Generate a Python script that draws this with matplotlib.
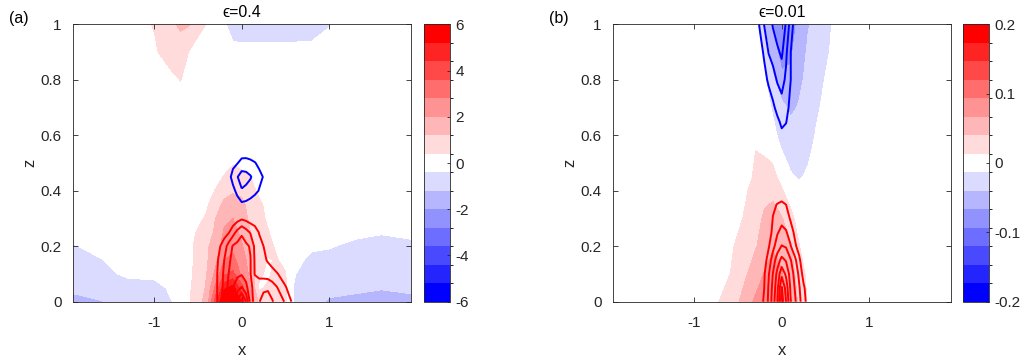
import numpy as np
import matplotlib
matplotlib.use('Agg')
import matplotlib.pyplot as plt
from matplotlib.colors import ListedColormap, BoundaryNorm
import matplotlib.cm as cm

plt.rcParams['font.family'] = ['Liberation Sans', 'DejaVu Sans']
plt.rcParams['axes.unicode_minus'] = False

# ---------------- panel (a): eps = 0.4 ----------------
X_A = [-1.94, -1.6, -1.3, -1.0, -0.8, -0.7, -0.6, -0.4, -0.3, -0.2, -0.1, 0.0,
       0.1, 0.2, 0.3, 0.4, 0.5, 0.6, 0.8, 1.0, 1.3, 1.6, 1.94]
Z_A = [0, 0.05, 0.1, 0.15, 0.2, 0.25, 0.3, 0.35, 0.4, 0.45, 0.5, 0.6, 0.7, 0.8, 0.9, 1.0]
FILL_A = [
    [-1.5, -1.22, -0.9, -0.8, -0.42, -0.1, 0.3, 1.5, 4.0, 6.5, 6.5, 5.0, 2.5, 1.0, 0.9, 0.6, 0.5, -0.5, -0.9, -1.3, -1.4, -1.5, -1.4],
    [-1.0, -0.95, -0.85, -0.8, -0.2, 0.05, 0.3, 1.3, 3.0, 5.0, 5.5, 4.0, 2.0, 0.3, 0.5, 0.7, 0.5, -0.45, -0.85, -0.95, -1.05, -1.15, -1.05],
    [-0.9, -0.7, -0.2, -0.1, 0.0, 0.1, 0.2, 1.2, 2.2, 3.5, 3.8, 2.6, 1.8, 0.5, 0.3, 0.6, 0.45, -0.35, -0.8, -0.8, -0.85, -0.9, -0.9],
    [-0.75, -0.42, -0.1, 0.0, 0.0, 0.1, 0.2, 1.1, 1.8, 2.8, 3.0, 2.4, 1.6, 0.8, 0.35, 0.45, 0.2, -0.2, -0.55, -0.6, -0.7, -0.8, -0.8],
    [-0.45, -0.2, 0.0, 0.0, 0.0, 0.1, 0.2, 1.1, 1.5, 2.4, 2.6, 2.1, 1.3, 0.9, 0.6, 0.3, 0.0, -0.1, -0.3, -0.35, -0.55, -0.65, -0.5],
    [-0.15, 0.0, 0.0, 0.0, 0.0, 0.05, 0.1, 0.9, 1.3, 2.1, 2.3, 1.8, 1.2, 0.8, 0.45, 0.1, 0.0, 0.0, 0.0, -0.05, -0.25, -0.35, -0.3],
    [0, 0, 0, 0, 0, 0, 0.0, 0.5, 1.2, 1.8, 2.0, 1.6, 1.0, 0.6, 0.3, 0, 0, 0, 0, 0, 0, 0, 0],
    [0, 0, 0, 0, 0, 0, 0.0, 0.3, 0.8, 1.4, 1.6, 1.4, 0.9, 0.6, 0.1, 0, 0, 0, 0, 0, 0, 0, 0],
    [0, 0, 0, 0, 0, 0, 0.0, 0.0, 0.45, 0.9, 1.1, 1.0, 0.7, 0.2, 0, 0, 0, 0, 0, 0, 0, 0, 0],
    [0, 0, 0, 0, 0, 0, 0.0, 0.0, 0.1, 0.45, 0.7, 0.6, 0.42, 0.0, 0, 0, 0, 0, 0, 0, 0, 0, 0],
    [0, 0, 0, 0, 0, 0, 0.0, 0.0, 0.0, 0.1, 0.35, 0.2, 0.0, 0.0, 0, 0, 0, 0, 0, 0, 0, 0, 0],
    [0, 0, 0, 0, 0, 0, 0, 0, 0, 0, 0, 0, 0, 0, 0, 0, 0, 0, 0, 0, 0, 0, 0],
    [0, 0, 0, 0, 0, 0, 0, 0, 0, 0, 0, 0, 0, 0, 0, 0, 0, 0, 0, 0, 0, 0, 0],
    [0, 0, 0, 0.0, 0.2, 0.42, 0.1, 0, 0, 0, 0, 0, 0, 0, 0, 0, 0, 0, 0, 0, 0, 0, 0],
    [0, 0, 0, 0.28, 0.85, 0.9, 0.35, 0.0, 0, -0.05, -0.15, -0.15, -0.15, -0.15, -0.15, -0.15, -0.15, -0.15, -0.15, -0.05, 0, 0, 0],
    [0, 0, 0, 0.45, 1.1, 1.3, 1.25, 0.35, 0.0, -0.3, -0.8, -0.9, -0.9, -0.9, -0.9, -0.85, -0.85, -0.85, -0.8, -0.45, 0, 0, 0],
]

LINE_X_A = [-0.5, -0.4, -0.3, -0.2, -0.15, -0.1, -0.05, 0, 0.05, 0.1, 0.15, 0.2, 0.25, 0.3, 0.35, 0.4, 0.5, 0.6, 0.7]
LINE_Z_A = [0, 0.05, 0.1, 0.15, 0.2, 0.25, 0.3, 0.35, 0.4, 0.45, 0.5, 0.55, 0.6]
LINE_A = [
    [0, 0.2, 0.6, 2.6, 3.6, 4.8, 6.2, 7.5, 6.0, 3.6, 2.6, 2.95, 3.4, 3.5, 3.1, 2.6, 1.9, 0.6, 0],
    [0, 0.2, 0.7, 2.3, 3.3, 4.0, 4.6, 5.1, 4.3, 3.3, 2.6, 2.6, 2.8, 2.85, 2.5, 2.1, 1.1, 0.3, 0],
    [0, 0.1, 0.7, 2.2, 3.0, 3.5, 3.8, 3.9, 3.6, 3.05, 1.95, 1.7, 1.6, 1.5, 1.35, 1.1, 0.5, 0.1, 0],
    [0, 0, 0.6, 2.0, 2.8, 3.3, 3.5, 3.5, 3.3, 3.05, 1.9, 1.5, 1.2, 0.9, 0.6, 0.3, 0.1, 0, 0],
    [0, 0, 0.4, 1.5, 2.4, 3.1, 3.3, 3.3, 3.2, 2.9, 1.8, 1.3, 1.0, 0.6, 0.3, 0.1, 0, 0, 0],
    [0, 0, 0.1, 0.6, 0.9, 1.6, 2.3, 2.9, 2.4, 1.9, 1.5, 0.95, 0.6, 0.3, 0.1, 0, 0, 0, 0],
    [0, 0, 0, 0, 0, 0.3, 0.6, 0.85, 0.7, 0.5, 0.4, 0.2, 0, 0, 0, 0, 0, 0, 0],
    [0, 0, 0, 0, 0, -0.3, -0.5, -0.8, -0.75, -0.6, -0.4, -0.25, -0.1, 0, 0, 0, 0, 0, 0],
    [0, 0, 0, 0, -0.3, -0.7, -1.3, -1.9, -1.7, -1.5, -1.26, -0.95, -0.6, -0.3, -0.1, 0, 0, 0, 0],
    [0, 0, 0, 0.1, -0.6, -1.4, -1.95, -2.5, -2.4, -2.1, -1.6, -1.25, -0.95, -0.7, -0.4, -0.2, 0, 0, 0],
    [0, 0, 0, 0, -0.3, -0.7, -0.95, -1.3, -1.3, -1.2, -1.05, -0.8, -0.5, -0.3, -0.1, 0, 0, 0, 0],
    [0, 0, 0, 0, 0, -0.1, -0.3, -0.4, -0.45, -0.4, -0.3, -0.1, 0, 0, 0, 0, 0, 0, 0],
    [0, 0, 0, 0, 0, 0, 0, 0, 0, 0, 0, 0, 0, 0, 0, 0, 0, 0, 0],
]
RED_LEVELS_A = [1, 2, 3, 4, 5, 6, 7]
BLUE_LEVELS_A = [-2, -1]

# ---------------- panel (b): eps = 0.01 ----------------
X_B = [-1.94, -1.0, -0.8, -0.6, -0.5, -0.4, -0.3, -0.2, -0.1, 0, 0.1, 0.2, 0.3, 0.4, 0.5, 0.6, 0.8, 1.0, 1.94]
Z_B = [0, 0.1, 0.2, 0.3, 0.4, 0.45, 0.5, 0.55, 0.6, 0.7, 0.8, 0.9, 1.0]
FILL_B = [
    [0, 0, 0, 0.033, 0.038, 0.055, 0.072, 0.08, 0.085, 0.08, 0.066, 0.0335, 0.011, 0, 0, 0, 0, 0, 0],
    [0, 0, 0, 0.012, 0.025, 0.039, 0.052, 0.068, 0.075, 0.068, 0.05, 0.03, 0.005, 0, 0, 0, 0, 0, 0],
    [0, 0, 0, 0.008, 0.018, 0.028, 0.038, 0.05, 0.065, 0.06, 0.042, 0.014, 0, 0, 0, 0, 0, 0, 0],
    [0, 0, 0, 0, 0.008, 0.018, 0.032, 0.043, 0.05, 0.042, 0.022, 0.002, 0, 0, 0, 0, 0, 0, 0],
    [0, 0, 0, 0, 0, 0.012, 0.022, 0.034, 0.034, 0.016, 0, -0.005, 0, 0, 0, 0, 0, 0, 0],
    [0, 0, 0, 0, 0, 0.005, 0.018, 0.025, 0.02, 0.005, -0.01, -0.016, -0.01, 0, 0, 0, 0, 0, 0],
    [0, 0, 0, 0, 0, 0, 0.016, 0.02, 0.012, -0.005, -0.018, -0.022, -0.014, -0.004, 0, 0, 0, 0, 0],
    [0, 0, 0, 0, 0, 0, 0.013, 0.006, -0.004, -0.014, -0.024, -0.028, -0.02, -0.006, 0, 0, 0, 0, 0],
    [0, 0, 0, 0, 0, 0, 0, 0, -0.008, -0.02, -0.03, -0.033, -0.026, -0.01, 0, 0, 0, 0, 0],
    [0, 0, 0, 0, 0, 0, 0, -0.004, -0.016, -0.032, -0.045, -0.038, -0.03, -0.018, -0.006, 0, 0, 0, 0],
    [0, 0, 0, 0, 0, 0, 0, -0.01, -0.035, -0.062, -0.06, -0.045, -0.034, -0.024, -0.012, -0.002, 0, 0, 0],
    [0, 0, 0, 0, 0, 0, -0.002, -0.018, -0.058, -0.075, -0.072, -0.052, -0.037, -0.028, -0.018, -0.008, 0, 0, 0],
    [0, 0, 0, 0, 0, 0, -0.006, -0.04, -0.07, -0.085, -0.08, -0.06, -0.042, -0.032, -0.022, -0.01, 0, 0, 0],
]

RED_X_B = [-0.4, -0.3, -0.2, -0.15, -0.1, -0.05, 0, 0.05, 0.1, 0.15, 0.2, 0.25, 0.3, 0.4]
RED_Z_B = [0, 0.05, 0.1, 0.15, 0.2, 0.25, 0.3, 0.35, 0.4, 0.45]
RED_LINE_B = [
    [0, 0.3, 1.1, 2.2, 3.5, 5.0, 7.5, 6.0, 4.1, 3.2, 2.3, 1.4, 0.6, 0],
    [0, 0.2, 1.0, 2.1, 3.3, 4.7, 7.1, 5.6, 3.9, 2.95, 2.1, 1.2, 0.4, 0],
    [0, 0.1, 0.9, 1.9, 3.05, 4.3, 5.7, 4.8, 3.6, 2.7, 1.8, 0.6, 0.2, 0],
    [0, 0, 0.6, 1.4, 2.5, 3.5, 4.3, 3.9, 3.1, 2.3, 1.2, 0.3, 0, 0],
    [0, 0, 0.3, 0.9, 1.7, 2.5, 3.05, 2.9, 2.1, 1.2, 0.6, 0.1, 0, 0],
    [0, 0, 0.1, 0.6, 1.2, 1.9, 2.3, 2.1, 1.5, 0.8, 0.3, 0, 0, 0],
    [0, 0, 0, 0.3, 1.05, 1.4, 1.7, 1.5, 0.9, 0.3, 0, 0, 0, 0],
    [0, 0, 0, 0, 0.8, 1.05, 1.15, 1.0, 0.5, 0, 0, 0, 0, 0],
    [0, 0, 0, 0, 0.2, 0.3, 0.5, 0.3, 0.1, 0, 0, 0, 0, 0],
    [0, 0, 0, 0, 0, 0, 0, 0, 0, 0, 0, 0, 0, 0],
]
RED_LEVELS_B = [1, 2, 3, 4, 5, 6, 7]

BLUE_X_B = [-0.4, -0.3, -0.25, -0.2, -0.15, -0.1, -0.05, 0, 0.05, 0.1, 0.15, 0.2, 0.3]
BLUE_Z_B = [0.55, 0.6, 0.65, 0.7, 0.8, 0.9, 1.0]
BLUE_LINE_B = [
    [0, 0, 0, 0, 0, 0, 0, 0, 0, 0, 0, 0, 0],
    [0, 0, 0, 0, 0, 0, -0.4, -0.8, -0.7, -0.3, 0, 0, 0],
    [0, 0, 0, 0, 0, -0.3, -0.8, -1.2, -1.05, -0.5, -0.1, 0, 0],
    [0, 0, 0, 0, -0.3, -0.8, -1.3, -1.6, -1.4, -0.7, -0.2, 0, 0],
    [0, 0, -0.1, -0.6, -1.2, -1.6, -2.1, -2.4, -1.8, -1.05, -0.4, -0.1, 0],
    [0, 0, -0.5, -1.2, -2.05, -2.4, -2.8, -3.2, -2.2, -1.05, -0.4, -0.1, 0],
    [0, -0.3, -1.15, -2.05, -2.5, -3.1, -3.6, -3.7, -2.9, -1.6, -0.6, -0.2, 0],
]
BLUE_LEVELS_B = [-3, -2, -1]

LEVELS_A = np.linspace(-6, 6, 16)
LEVELS_B = np.linspace(-0.2, 0.2, 16)
CBAR_TICKS_A = [-6, -4, -2, 0, 2, 4, 6]
CBAR_LABELS_A = ['-6', '-4', '-2', '0', '2', '4', '6']
CBAR_TICKS_B = [-0.2, -0.1, 0, 0.1, 0.2]
CBAR_LABELS_B = ['-0.2', '-0.1', '0', '0.1', '0.2']
TITLES = ['\u03f5=0.4', '\u03f5=0.01']
PANEL_TAGS = ['(a)', '(b)']
X_TICKS = [-1, 0, 1]
Z_TICKS = [0, 0.2, 0.4, 0.6, 0.8, 1.0]
Z_TICK_LABELS = ['0', '0.2', '0.4', '0.6', '0.8', '1']

# colormap: 7 blues, white, 7 reds
n = 7
cols = [(1 - k / n, 1 - k / n, 1.0) for k in range(n, 0, -1)] + [(1.0, 1.0, 1.0)] + \
       [(1.0, 1 - k / n, 1 - k / n) for k in range(1, n + 1)]
cmap = ListedColormap(cols)
cmap.set_over(cols[-1])
cmap.set_under(cols[0])

DARK = (0.15, 0.15, 0.15)
W, H = 1030, 364
fig = plt.figure(figsize=(W / 100, H / 100), dpi=100)

def fx(px):
    return px / W

def fy(py):
    return 1 - py / H

ax_pos = [(72.7, 410.7), (612.7, 950.7)]
cb_pos = [(424.3, 450.0), (963.3, 989.3)]
top_px, bot_px = 24.3, 301.7

panels = [
    dict(X=X_A, Z=Z_A, F=FILL_A, levels=LEVELS_A, ticks=CBAR_TICKS_A, tlabels=CBAR_LABELS_A,
         lines=[(LINE_X_A, LINE_Z_A, LINE_A, RED_LEVELS_A, 'red'),
                (LINE_X_A, LINE_Z_A, LINE_A, BLUE_LEVELS_A, 'blue')]),
    dict(X=X_B, Z=Z_B, F=FILL_B, levels=LEVELS_B, ticks=CBAR_TICKS_B, tlabels=CBAR_LABELS_B,
         lines=[(RED_X_B, RED_Z_B, RED_LINE_B, RED_LEVELS_B, 'red'),
                (BLUE_X_B, BLUE_Z_B, BLUE_LINE_B, BLUE_LEVELS_B, 'blue')]),
]

for i, p in enumerate(panels):
    l, r = ax_pos[i]
    ax = fig.add_axes([fx(l), fy(bot_px), fx(r - l), (bot_px - top_px) / H])
    norm = BoundaryNorm(p['levels'], cmap.N)
    ax.contourf(p['X'], p['Z'], np.array(p['F']), levels=p['levels'], cmap=cmap,
                norm=norm, extend='both', antialiased=False)
    for (lx, lz, lv, lev, c) in p['lines']:
        ax.contour(lx, lz, np.array(lv), levels=lev, colors=c, linewidths=1.4,
                   linestyles='solid')
    ax.set_xlim(-1.935, 1.935)
    ax.set_ylim(0, 1)
    ax.set_xticks(X_TICKS)
    ax.set_xticklabels([str(t) for t in X_TICKS])
    ax.set_yticks(Z_TICKS)
    ax.set_yticklabels(Z_TICK_LABELS)
    ax.tick_params(direction='in', length=3.5, width=0.6, top=True, right=True,
                   labelsize=11, colors=DARK)
    ax.tick_params(axis='x', pad=10)
    ax.tick_params(axis='y', pad=8)
    for s in ax.spines.values():
        s.set_color(DARK)
        s.set_linewidth(0.6)
    ax.set_xlabel('x', fontsize=12, color=DARK, labelpad=10)
    ax.set_ylabel('z', fontsize=12, color=DARK, labelpad=2)
    ax.set_title(TITLES[i], fontsize=11.5, color='black', pad=5)
    fig.text(fx(l - 64), fy(19), PANEL_TAGS[i], fontsize=11.5, va='center', ha='left')

    cl, cr = cb_pos[i]
    cax = fig.add_axes([fx(cl), fy(bot_px), fx(cr - cl), (bot_px - top_px) / H])
    sm = cm.ScalarMappable(norm=norm, cmap=cmap)
    cb = fig.colorbar(sm, cax=cax, ticks=p['ticks'])
    cb.ax.set_yticklabels(p['tlabels'])
    cb.ax.tick_params(direction='in', length=2.5, width=0.6, labelsize=11, colors=DARK, pad=4)
    cb.outline.set_edgecolor(DARK)
    cb.outline.set_linewidth(0.6)

fig.savefig('out.png', dpi=100)
